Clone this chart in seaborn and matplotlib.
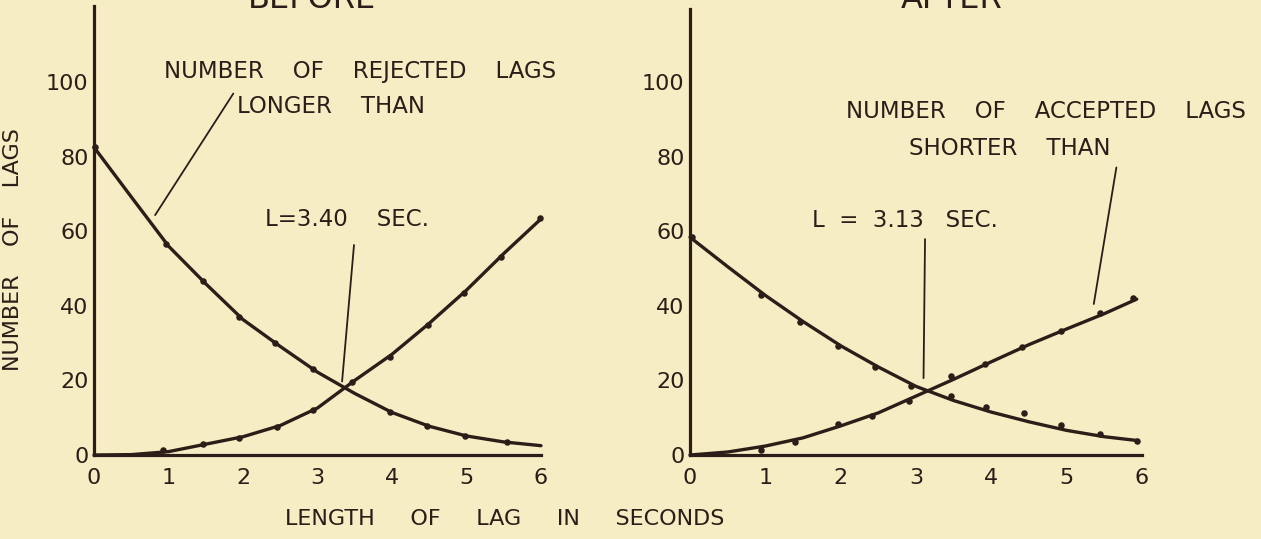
import matplotlib
matplotlib.use("Agg")
import matplotlib.pyplot as plt
import seaborn as sns

# ---------------- data ----------------
curve_x_before = [0, 0.5, 1, 1.5, 2, 2.5, 3, 3.5, 4, 4.5, 5, 5.5, 6]
before_rejected_curve = [82.5, 69.2, 56.0, 45.9, 36.3, 29.1, 22.2, 16.5, 11.4, 7.7, 5.1, 3.5, 2.5]
before_accepted_curve = [0.0, 0.1, 0.9, 2.9, 4.9, 7.9, 12.6, 20.0, 27.0, 35.3, 44.2, 54.0, 63.3]

before_rejected_pts_x = [0.02, 0.97, 1.46, 1.95, 2.43, 2.94, 3.97, 4.47, 4.98, 5.55]
before_rejected_pts_y = [82.5, 56.5, 46.7, 37.1, 30.1, 23.0, 11.6, 7.9, 5.2, 3.4]
before_accepted_pts_x = [0.92, 1.46, 1.95, 2.45, 2.94, 3.46, 3.97, 4.48, 4.96, 5.46, 5.98]
before_accepted_pts_y = [1.3, 3.0, 4.6, 7.6, 12.1, 19.7, 26.4, 34.9, 43.5, 53.2, 63.4]

curve_x_after = [0, 0.5, 1, 1.5, 2, 2.5, 3, 3.5, 4, 4.5, 5, 5.5, 5.93]
after_rejected_curve = [58.4, 50.5, 42.8, 35.8, 29.3, 23.6, 18.4, 14.6, 11.5, 8.9, 6.6, 4.9, 3.9]
after_accepted_curve = [0.0, 0.8, 2.4, 4.6, 7.8, 11.3, 15.8, 20.3, 25.0, 29.6, 33.8, 37.9, 41.8]

after_rejected_pts_x = [0.02, 0.94, 1.46, 1.97, 2.46, 2.93, 3.46, 3.93, 4.44, 4.92, 5.44, 5.93]
after_rejected_pts_y = [58.4, 42.9, 35.7, 29.2, 23.7, 18.6, 15.9, 13.0, 11.2, 8.0, 5.6, 3.8]
after_accepted_pts_x = [0.94, 1.40, 1.97, 2.41, 2.91, 3.46, 3.91, 4.41, 4.92, 5.44, 5.88]
after_accepted_pts_y = [1.3, 3.6, 8.3, 10.5, 14.5, 21.2, 24.3, 29.0, 33.2, 38.0, 42.0]

x_ticks = [0, 1, 2, 3, 4, 5, 6]
x_tick_labels = ["0", "1", "2", "3", "4", "5", "6"]
y_ticks = [0, 20, 40, 60, 80, 100]
y_tick_labels = ["0", "20", "40", "60", "80", "100"]

panel_titles = ["BEFORE", "AFTER"]
y_label = "NUMBER    OF    LAGS"
x_label = "LENGTH     OF     LAG     IN     SECONDS"

# ---------------- style ----------------
BG = "#f7edc4"
INK = "#2b1e18"

sns.set_theme(style="white", rc={
    "figure.facecolor": BG,
    "axes.facecolor": BG,
    "savefig.facecolor": BG,
    "text.color": INK,
    "axes.edgecolor": INK,
    "xtick.color": INK,
    "ytick.color": INK,
})
plt.rcParams["font.family"] = ["DejaVu Sans"]

fig = plt.figure(figsize=(12.61, 5.39), dpi=100)

W, H = 1261.0, 539.0
ax_l = fig.add_axes([94 / W, 84 / H, 447 / W, 449.5 / H])
ax_r = fig.add_axes([690 / W, 84 / H, 452 / W, 446.0 / H])
ax_l.set_ylim(0, 120.5)
ax_r.set_ylim(0, 119.6)


def style_axes(ax):
    ax.set_xlim(0, 6)
    ax.patch.set_alpha(0)
    for s in ["top", "right"]:
        ax.spines[s].set_visible(False)
    for s in ["left", "bottom"]:
        ax.spines[s].set_linewidth(2.3)
        ax.spines[s].set_color(INK)
    ax.set_xticks(x_ticks)
    ax.set_xticklabels(x_tick_labels)
    ax.set_yticks(y_ticks)
    ax.set_yticklabels(y_tick_labels)
    ax.tick_params(axis="x", direction="out", length=5, width=1.6, pad=4,
                   labelsize=16, colors=INK)
    ax.tick_params(axis="y", direction="out", length=3, width=1.4, pad=1,
                   labelsize=16, colors=INK)
    ax.set_xlabel("")
    ax.set_ylabel("")
    ax.grid(False)


def draw(ax, cx, c1, c2, p1x, p1y, p2x, p2y):
    sns.lineplot(x=cx, y=c1, ax=ax, color=INK, linewidth=2.4, sort=False)
    sns.lineplot(x=cx, y=c2, ax=ax, color=INK, linewidth=2.4, sort=False)
    sns.scatterplot(x=p1x, y=p1y, ax=ax, color=INK, s=22, linewidth=0, zorder=3)
    sns.scatterplot(x=p2x, y=p2y, ax=ax, color=INK, s=22, linewidth=0, zorder=3)
    for art in ax.lines + ax.collections:
        art.set_clip_on(False)


draw(ax_l, curve_x_before, before_rejected_curve, before_accepted_curve,
     before_rejected_pts_x, before_rejected_pts_y,
     before_accepted_pts_x, before_accepted_pts_y)
draw(ax_r, curve_x_after, after_rejected_curve, after_accepted_curve,
     after_rejected_pts_x, after_rejected_pts_y,
     after_accepted_pts_x, after_accepted_pts_y)
style_axes(ax_l)
style_axes(ax_r)

# annotations
FS = 16.5
lw_lead = 1.3
ax_l.text(3.57, 102.7, "NUMBER    OF    REJECTED    LAGS", ha="center", va="center",
          fontsize=FS, color=INK)
ax_l.text(1.92, 93.3, "LONGER    THAN", ha="left", va="center", fontsize=FS, color=INK)
ax_l.text(2.30, 63.0, "L=3.40    SEC.", ha="left", va="center", fontsize=FS, color=INK)
ax_l.annotate("", xy=(0.82, 64.3), xytext=(1.87, 96.9),
              arrowprops=dict(arrowstyle="-", color=INK, lw=lw_lead,
                              shrinkA=0, shrinkB=0))
ax_l.annotate("", xy=(3.33, 19.7), xytext=(3.49, 56.3),
              arrowprops=dict(arrowstyle="-", color=INK, lw=lw_lead,
                              shrinkA=0, shrinkB=0))

ax_r.text(4.72, 92.0, "NUMBER    OF    ACCEPTED    LAGS", ha="center", va="center",
          fontsize=FS, color=INK)
ax_r.text(4.24, 82.3, "SHORTER    THAN", ha="center", va="center", fontsize=FS, color=INK)
ax_r.text(1.62, 63.0, "L  =  3.13   SEC.", ha="left", va="center", fontsize=FS, color=INK)
ax_r.annotate("", xy=(5.36, 40.5), xytext=(5.66, 77.1),
              arrowprops=dict(arrowstyle="-", color=INK, lw=lw_lead,
                              shrinkA=0, shrinkB=0))
ax_r.annotate("", xy=(3.10, 20.6), xytext=(3.12, 57.9),
              arrowprops=dict(arrowstyle="-", color=INK, lw=lw_lead,
                              shrinkA=0, shrinkB=0))

# panel titles (cut by the top edge, as in the reference)
fig.text(312 / W, 1 - 8 / H, panel_titles[0], ha="center", va="baseline",
         fontsize=23, color=INK)
fig.text(952 / W, 1 - 8 / H, panel_titles[1], ha="center", va="baseline",
         fontsize=23, color=INK)

# axis labels
fig.text(13 / W, 1 - 250 / H, y_label, rotation=90, ha="center", va="center",
         fontsize=16, color=INK)
fig.text(505 / W, 1 - 519 / H, x_label, ha="center", va="center",
         fontsize=16, color=INK)

fig.savefig("out.png", dpi=100, facecolor=BG)
